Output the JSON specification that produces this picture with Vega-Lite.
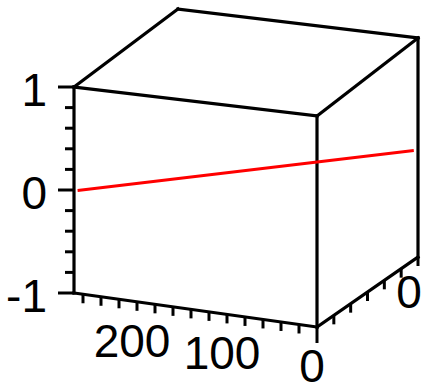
{
  "$schema": "https://vega.github.io/schema/vega-lite/v6.json",
  "width": 422,
  "height": 387,
  "padding": 0,
  "autosize": {"type": "none"},
  "background": "white",
  "config": {"view": {"stroke": null}},
  "data": {
    "values": [
      {"kind": "edge", "edge": "front-top", "end": 0, "u": 0, "v": -0.6, "w": 1},
      {"kind": "edge", "edge": "front-top", "end": 1, "u": 270, "v": -0.6, "w": 1},
      {"kind": "edge", "edge": "front-bottom", "end": 0, "u": 0, "v": -0.6, "w": -1},
      {"kind": "edge", "edge": "front-bottom", "end": 1, "u": 270, "v": -0.6, "w": -1},
      {"kind": "edge", "edge": "front-left", "end": 0, "u": 270, "v": -0.6, "w": -1},
      {"kind": "edge", "edge": "front-left", "end": 1, "u": 270, "v": -0.6, "w": 1},
      {"kind": "edge", "edge": "front-right", "end": 0, "u": 0, "v": -0.6, "w": -1},
      {"kind": "edge", "edge": "front-right", "end": 1, "u": 0, "v": -0.6, "w": 1},
      {"kind": "edge", "edge": "top-left", "end": 0, "u": 270, "v": -0.6, "w": 1},
      {"kind": "edge", "edge": "top-left", "end": 1, "u": 270, "v": 0, "w": 1},
      {"kind": "edge", "edge": "top-back", "end": 0, "u": 270, "v": 0, "w": 1},
      {"kind": "edge", "edge": "top-back", "end": 1, "u": 0, "v": 0, "w": 1},
      {"kind": "edge", "edge": "top-right", "end": 0, "u": 0, "v": -0.6, "w": 1},
      {"kind": "edge", "edge": "top-right", "end": 1, "u": 0, "v": 0, "w": 1},
      {"kind": "edge", "edge": "back-right", "end": 0, "u": 0, "v": 0, "w": -1},
      {"kind": "edge", "edge": "back-right", "end": 1, "u": 0, "v": 0, "w": 1},
      {"kind": "edge", "edge": "bottom-right", "end": 0, "u": 0, "v": -0.6, "w": -1},
      {"kind": "edge", "edge": "bottom-right", "end": 1, "u": 0, "v": 0, "w": -1},

      {"kind": "curve", "end": 0, "u": 266, "v": -0.6, "w": 0},
      {"kind": "curve", "end": 1, "u": 0, "v": -0.025, "w": 0},

      {"kind": "tick", "axis": "w", "major": true, "u": 270, "v": -0.6, "w": -1},
      {"kind": "tick", "axis": "w", "major": false, "u": 270, "v": -0.6, "w": -0.8},
      {"kind": "tick", "axis": "w", "major": false, "u": 270, "v": -0.6, "w": -0.6},
      {"kind": "tick", "axis": "w", "major": false, "u": 270, "v": -0.6, "w": -0.4},
      {"kind": "tick", "axis": "w", "major": false, "u": 270, "v": -0.6, "w": -0.2},
      {"kind": "tick", "axis": "w", "major": true, "u": 270, "v": -0.6, "w": 0},
      {"kind": "tick", "axis": "w", "major": false, "u": 270, "v": -0.6, "w": 0.2},
      {"kind": "tick", "axis": "w", "major": false, "u": 270, "v": -0.6, "w": 0.4},
      {"kind": "tick", "axis": "w", "major": false, "u": 270, "v": -0.6, "w": 0.6},
      {"kind": "tick", "axis": "w", "major": false, "u": 270, "v": -0.6, "w": 0.8},
      {"kind": "tick", "axis": "w", "major": true, "u": 270, "v": -0.6, "w": 1},

      {"kind": "tick", "axis": "u", "major": true, "u": 0, "v": -0.6, "w": -1},
      {"kind": "tick", "axis": "u", "major": false, "u": 20, "v": -0.6, "w": -1},
      {"kind": "tick", "axis": "u", "major": false, "u": 40, "v": -0.6, "w": -1},
      {"kind": "tick", "axis": "u", "major": false, "u": 60, "v": -0.6, "w": -1},
      {"kind": "tick", "axis": "u", "major": false, "u": 80, "v": -0.6, "w": -1},
      {"kind": "tick", "axis": "u", "major": false, "u": 100, "v": -0.6, "w": -1},
      {"kind": "tick", "axis": "u", "major": false, "u": 120, "v": -0.6, "w": -1},
      {"kind": "tick", "axis": "u", "major": false, "u": 140, "v": -0.6, "w": -1},
      {"kind": "tick", "axis": "u", "major": false, "u": 160, "v": -0.6, "w": -1},
      {"kind": "tick", "axis": "u", "major": false, "u": 180, "v": -0.6, "w": -1},
      {"kind": "tick", "axis": "u", "major": false, "u": 200, "v": -0.6, "w": -1},
      {"kind": "tick", "axis": "u", "major": false, "u": 220, "v": -0.6, "w": -1},
      {"kind": "tick", "axis": "u", "major": false, "u": 240, "v": -0.6, "w": -1},
      {"kind": "tick", "axis": "u", "major": false, "u": 260, "v": -0.6, "w": -1},

      {"kind": "tick", "axis": "v", "major": false, "u": 0, "v": -0.5, "w": -1},
      {"kind": "tick", "axis": "v", "major": false, "u": 0, "v": -0.4, "w": -1},
      {"kind": "tick", "axis": "v", "major": false, "u": 0, "v": -0.3, "w": -1},
      {"kind": "tick", "axis": "v", "major": false, "u": 0, "v": -0.2, "w": -1},
      {"kind": "tick", "axis": "v", "major": false, "u": 0, "v": -0.1, "w": -1},
      {"kind": "tick", "axis": "v", "major": false, "u": 0, "v": 0, "w": -1},

      {"kind": "label", "axis": "w", "text": "1", "u": 270, "v": -0.6, "w": 1},
      {"kind": "label", "axis": "w", "text": "0", "u": 270, "v": -0.6, "w": 0},
      {"kind": "label", "axis": "w", "text": "-1", "u": 270, "v": -0.6, "w": -1},
      {"kind": "label", "axis": "u", "text": "200", "u": 200, "v": -0.6, "w": -1},
      {"kind": "label", "axis": "u", "text": "100", "u": 100, "v": -0.6, "w": -1},
      {"kind": "label", "axis": "u", "text": "0", "u": 0, "v": -0.6, "w": -1},
      {"kind": "label", "axis": "v", "text": "0", "u": 0, "v": 0, "w": -1}
    ]
  },
  "transform": [
    {"calculate": "datum.u / 270", "as": "nu"},
    {"calculate": "(datum.v + 0.6) / 0.6", "as": "nv"},
    {"calculate": "(datum.w + 1) / 2", "as": "nw"},
    {"calculate": "317 - 243 * datum.nu + 101 * datum.nv + 3 * datum.nu * datum.nv", "as": "sx"},
    {"calculate": "327 - 34 * datum.nu - 70 * datum.nv - 211 * datum.nw + 5 * datum.nu * datum.nw - 8 * datum.nv * datum.nw", "as": "sy"}
  ],
  "encoding": {
    "x": {"field": "sx", "type": "quantitative", "scale": {"domain": [0, 422], "nice": false}, "axis": null},
    "y": {"field": "sy", "type": "quantitative", "scale": {"domain": [0, 387], "nice": false, "reverse": true}, "axis": null}
  },
  "layer": [
    {
      "transform": [{"filter": "datum.kind === 'edge'"}],
      "mark": {"type": "line", "color": "black", "strokeWidth": 3.2, "strokeCap": "square"},
      "encoding": {"detail": {"field": "edge"}, "order": {"field": "end"}}
    },
    {
      "transform": [{"filter": "datum.kind === 'tick' && datum.axis === 'w' && !datum.major"}],
      "mark": {"type": "rule", "color": "black", "strokeWidth": 3, "x2Offset": -9},
      "encoding": {"x2": {"field": "sx"}}
    },
    {
      "transform": [{"filter": "datum.kind === 'tick' && datum.axis === 'w' && datum.major"}],
      "mark": {"type": "rule", "color": "black", "strokeWidth": 3, "x2Offset": -16},
      "encoding": {"x2": {"field": "sx"}}
    },
    {
      "transform": [{"filter": "datum.kind === 'tick' && datum.axis !== 'w' && !datum.major"}],
      "mark": {"type": "rule", "color": "black", "strokeWidth": 3, "y2Offset": 9},
      "encoding": {"y2": {"field": "sy"}}
    },
    {
      "transform": [{"filter": "datum.kind === 'tick' && datum.axis !== 'w' && datum.major"}],
      "mark": {"type": "rule", "color": "black", "strokeWidth": 3, "y2Offset": 16},
      "encoding": {"y2": {"field": "sy"}}
    },
    {
      "transform": [{"filter": "datum.kind === 'curve'"}],
      "mark": {"type": "line", "color": "#ff0000", "strokeWidth": 3},
      "encoding": {"order": {"field": "end"}}
    },
    {
      "transform": [{"filter": "datum.kind === 'label' && datum.axis === 'w'"}],
      "mark": {"type": "text", "align": "right", "baseline": "alphabetic", "dx": -27, "dy": 19, "font": "Liberation Sans", "fontSize": 46, "color": "black"},
      "encoding": {"text": {"field": "text"}}
    },
    {
      "transform": [{"filter": "datum.kind === 'label' && datum.axis === 'u'"}],
      "mark": {"type": "text", "align": "center", "baseline": "alphabetic", "dx": -5, "dy": 55, "font": "Liberation Sans", "fontSize": 46, "color": "black"},
      "encoding": {"text": {"field": "text"}}
    },
    {
      "transform": [{"filter": "datum.kind === 'label' && datum.axis === 'v'"}],
      "mark": {"type": "text", "align": "center", "baseline": "alphabetic", "dx": -9, "dy": 51, "font": "Liberation Sans", "fontSize": 46, "color": "black"},
      "encoding": {"text": {"field": "text"}}
    }
  ]
}
